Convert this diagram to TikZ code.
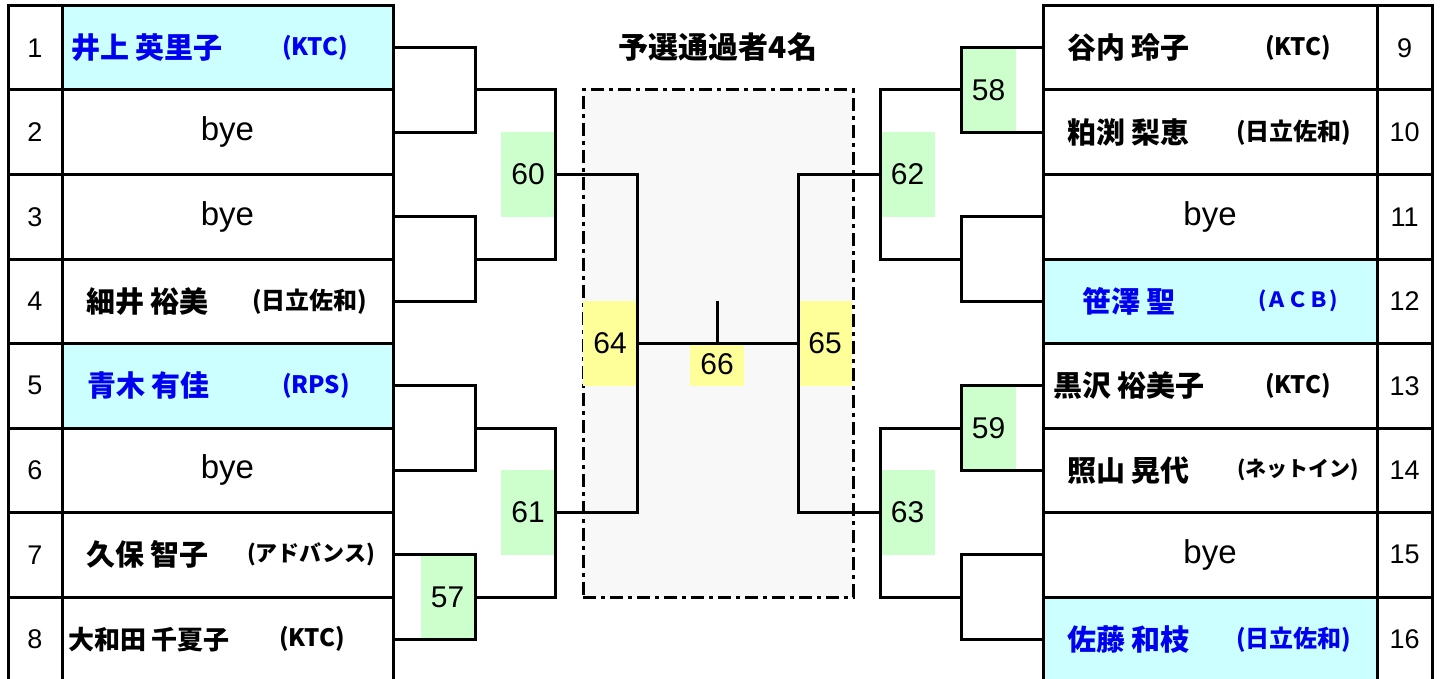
\documentclass[tikz,border=0pt]{standalone}
\usepackage{fontspec}
\setmainfont{Liberation Sans}
\newfontfamily\jp{Noto Sans CJK JP}
\definecolor{cellcyan}{HTML}{CCFFFF}
\definecolor{boxgreen}{HTML}{CCFFCC}
\definecolor{boxyellow}{HTML}{FFFF99}
\definecolor{zonegray}{HTML}{F8F8F8}
\definecolor{nameblue}{HTML}{0000F0}
\begin{document}
\begin{tikzpicture}[x=1pt,y=-1pt,
  every node/.style={inner sep=0pt, outer sep=0pt},
  rule/.style={line width=3pt},
  cellframe/.style={draw, line width=3pt, minimum height=84.5pt},
  lnum/.style={cellframe, minimum width=54pt, font=\fontsize{27}{30}\selectfont},
  rnum/.style={cellframe, minimum width=55pt, font=\fontsize{27}{30}\selectfont},
  lname/.style={cellframe, minimum width=331pt},
  rname/.style={cellframe, minimum width=334pt},
  byetext/.style={font=\fontsize{33}{36}\selectfont},
  seeded/.style={fill=cellcyan},
  player/.style={anchor=west, font=\jp\bfseries\fontsize{29}{32}\selectfont},
  playersmall/.style={anchor=west, font=\jp\bfseries\fontsize{26}{29}\selectfont},
  club/.style={anchor=west, font=\jp\bfseries\fontsize{24}{27}\selectfont},
  clubsmall/.style={anchor=west, font=\jp\bfseries\fontsize{22}{25}\selectfont},
  clubtiny/.style={anchor=west, font=\jp\bfseries\fontsize{21}{24}\selectfont},
  hl/.style={text=nameblue},
  matchbox/.style={minimum width=54pt, minimum height=84.5pt, font=\fontsize{30}{32}\selectfont},
  greenbox/.style={matchbox, fill=boxgreen},
  yellowbox/.style={matchbox, fill=boxyellow},
  zone/.style={draw, line width=3pt, dash pattern=on 13pt off 5pt on 4pt off 5pt, fill=zonegray},
  titletext/.style={font=\jp\bfseries\fontsize{30}{33}\selectfont}
]
\path[use as bounding box] (0,0) rectangle (1440,679);
\clip (0,0) rectangle (1440,679);
\fill[white] (0,0) rectangle (1440,679);

% qualifying zone
\node[zone, minimum width=270pt, minimum height=507pt] (zone) at (718,343.5) {};
\node[titletext] (title) at (718,47) {予選通過者4名};

% left table
\node[lnum] (N1) at (35,47.75) {1};
\node[lnum] (N2) at (35,132.25) {2};
\node[lnum] (N3) at (35,216.75) {3};
\node[lnum] (N4) at (35,301.25) {4};
\node[lnum] (N5) at (35,385.75) {5};
\node[lnum] (N6) at (35,470.25) {6};
\node[lnum] (N7) at (35,554.75) {7};
\node[lnum] (N8) at (35,639.25) {8};
\node[lname, seeded] (L1) at (227.5,47.75) {};
\node[lname, byetext] (L2) at (227.5,132.25) {bye};
\node[lname, byetext] (L3) at (227.5,216.75) {bye};
\node[lname] (L4) at (227.5,301.25) {};
\node[lname, seeded] (L5) at (227.5,385.75) {};
\node[lname, byetext] (L6) at (227.5,470.25) {bye};
\node[lname] (L7) at (227.5,554.75) {};
\node[lname] (L8) at (227.5,639.25) {};

% right table
\node[rnum] (N9) at (1404.5,47.75) {9};
\node[rnum] (N10) at (1404.5,132.25) {10};
\node[rnum] (N11) at (1404.5,216.75) {11};
\node[rnum] (N12) at (1404.5,301.25) {12};
\node[rnum] (N13) at (1404.5,385.75) {13};
\node[rnum] (N14) at (1404.5,470.25) {14};
\node[rnum] (N15) at (1404.5,554.75) {15};
\node[rnum] (N16) at (1404.5,639.25) {16};
\node[rname] (R9) at (1210,47.75) {};
\node[rname] (R10) at (1210,132.25) {};
\node[rname, byetext] (R11) at (1210,216.75) {bye};
\node[rname, seeded] (R12) at (1210,301.25) {};
\node[rname] (R13) at (1210,385.75) {};
\node[rname] (R14) at (1210,470.25) {};
\node[rname, byetext] (R15) at (1210,554.75) {bye};
\node[rname, seeded] (R16) at (1210,639.25) {};

% match boxes
\node[greenbox] (b60) at (528,174.5) {60};
\node[greenbox] (b61) at (528,512.5) {61};
\node[greenbox] (b57) at (447.5,597) {57};
\node[greenbox] (b58) at (988.5,90) {58};
\node[greenbox] (b62) at (907.5,174.5) {62};
\node[greenbox] (b59) at (988.5,428) {59};
\node[greenbox] (b63) at (907.5,512.5) {63};
\node[yellowbox] (b64) at (610,343.5) {64};
\node[yellowbox] (b65) at (825,343.5) {65};
\node[yellowbox, minimum height=42.25pt] (b66) at (717,364.6) {66};

% bracket joints
\coordinate (j1) at (475,90);
\coordinate (j2) at (475,259);
\coordinate (j3) at (475,428);
\coordinate (j4) at (475,597);
\coordinate (k1) at (555,174.5);
\coordinate (k2) at (555,512.5);
\coordinate (c1) at (637,343.5);
\coordinate (j5) at (961,90);
\coordinate (j6) at (961,259);
\coordinate (j7) at (961,428);
\coordinate (j8) at (961,597);
\coordinate (k3) at (880,174.5);
\coordinate (k4) at (880,512.5);
\coordinate (c2) at (798,343.5);
\coordinate (f) at (717.5,343.5);
\coordinate (ft) at (717.5,301);

\draw[rule] (L1.east) -| (j1) |- (L2.east);
\draw[rule] (L3.east) -| (j2) |- (L4.east);
\draw[rule] (L5.east) -| (j3) |- (L6.east);
\draw[rule] (L7.east) -| (j4) |- (L8.east);
\draw[rule] (j1) -| (k1) |- (j2);
\draw[rule] (j3) -| (k2) |- (j4);
\draw[rule] (k1) -| (c1) |- (k2);
\draw[rule] (R9.west) -| (j5) |- (R10.west);
\draw[rule] (R11.west) -| (j6) |- (R12.west);
\draw[rule] (R13.west) -| (j7) |- (R14.west);
\draw[rule] (R15.west) -| (j8) |- (R16.west);
\draw[rule] (j5) -| (k3) |- (j6);
\draw[rule] (j7) -| (k4) |- (j8);
\draw[rule] (k3) -| (c2) |- (k4);
\draw[rule] (c1) -- (c2);
\draw[rule] (f) -- (ft);

% player texts left
\node[player, hl] (L1a) at (71,47.75) {井上 英里子};
\node[club, hl] (L1b) at (282,47.75) {(KTC)};
\node[player] (L4a) at (86,301.25) {細井 裕美};
\node[club] (L4b) at (252,301.25) {(日立佐和)};
\node[player, hl] (L5a) at (87,385.75) {青木 有佳};
\node[club, hl] (L5b) at (282,385.75) {(RPS)};
\node[player] (L7a) at (86,554.75) {久保 智子};
\node[clubsmall] (L7b) at (247,554.75) {(アドバンス)};
\node[playersmall] (L8a) at (68,639.25) {大和田 千夏子};
\node[club] (L8b) at (279,639.25) {(KTC)};

% player texts right
\node[player] (R9a) at (1067,47.75) {谷内 玲子};
\node[club] (R9b) at (1265,47.75) {(KTC)};
\node[player] (R10a) at (1067,132.25) {粕渕 梨恵};
\node[club] (R10b) at (1236,132.25) {(日立佐和)};
\node[player, hl] (R12a) at (1082,301.25) {笹澤 聖};
\node[clubtiny, hl] (R12b) at (1258,301.25) {(ＡＣＢ)};
\node[player] (R13a) at (1053,385.75) {黒沢 裕美子};
\node[club] (R13b) at (1265,385.75) {(KTC)};
\node[player] (R14a) at (1067,470.25) {照山 晃代};
\node[clubtiny] (R14b) at (1237,470.25) {(ネットイン)};
\node[player, hl] (R16a) at (1067,639.25) {佐藤 和枝};
\node[club, hl] (R16b) at (1236,639.25) {(日立佐和)};
\end{tikzpicture}
\end{document}
